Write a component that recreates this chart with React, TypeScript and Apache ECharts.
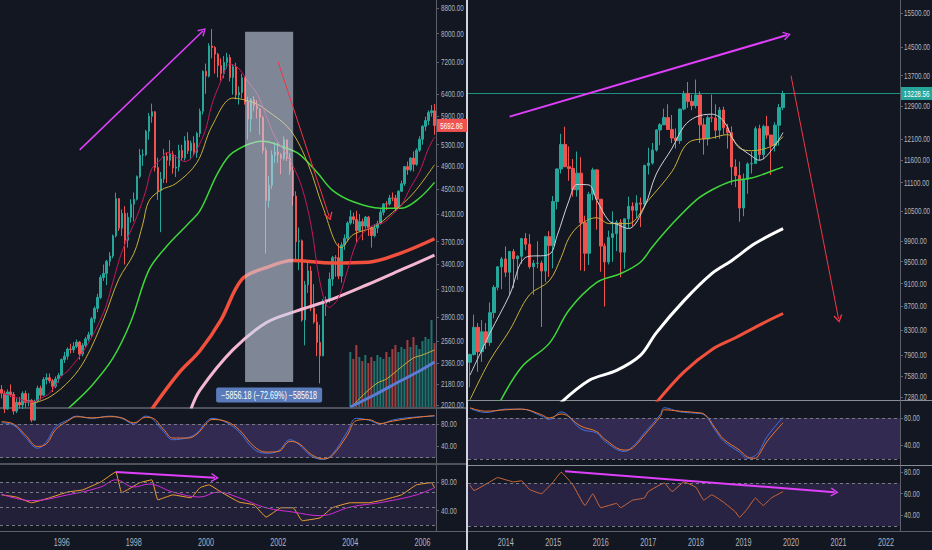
import React, { useEffect, useRef } from "react";
import * as echarts from "echarts";

// ---------- categories ----------
function monthSeq(y: number, m: number, n: number): string[] {
  const out: string[] = [];
  for (let i = 0; i < n; i++) {
    const t = m - 1 + i;
    const yy = y + Math.floor(t / 12);
    const mm = (t % 12) + 1;
    out.push(`${yy}-${mm < 10 ? "0" : ""}${mm}`);
  }
  return out;
}
const leftMonths = monthSeq(1994, 5, 145); // 1994-05 .. 2006-05
const rightMonths = monthSeq(2013, 4, 109); // 2013-04 .. 2022-04
const leftYearLabels = ["1996", "1998", "2000", "2002", "2004", "2006"];
const rightYearLabels = ["2014", "2015", "2016", "2017", "2018", "2019", "2020", "2021", "2022"];

// ---------- left chart (1994-2006) monthly OHLC ----------
const leftFirstOpen = 2140;
const leftClose = [
  2110, 1990, 2120, 2100, 1975, 2040, 2020, 2107,
  2040, 2055, 1910, 2050, 2150, 2095, 2220, 2235, 2210, 2165, 2225, 2254,
  2390, 2420, 2485, 2480, 2510, 2550, 2440, 2520, 2580, 2620, 2780, 2889,
  3010, 3240, 3290, 3440, 3510, 3780, 4340, 3890, 4110, 3720, 4050, 4250,
  4330, 4710, 5100, 5110, 5570, 5890, 5990, 4870, 4470, 4670, 5080, 5002,
  5120, 4860, 4880, 5190, 5050, 5380, 5180, 5330, 5150, 5525, 6000, 6958,
  6835, 7645, 7599, 7415, 7109, 6898, 7190, 7320, 6798, 7077, 6372, 6434,
  6795, 6208, 5830, 6265, 6123, 6058, 5861, 5188, 4308, 4560, 5100, 5160,
  5107, 5039, 5397, 5041, 4818, 4383, 3700, 3712, 2769, 3153, 3320, 2893,
  2747, 2547, 2424, 2942, 2983, 3221, 3487, 3485, 3257, 3655, 3746, 3965,
  4058, 4018, 3856, 3985, 3921, 4052, 3895, 3785, 3893, 3960, 4126, 4256,
  4254, 4350, 4349, 4185, 4460, 4587, 4886, 4830, 5044, 4929, 5193, 5408,
  5674, 5796, 5970, 6009, 5692.86,
];
const leftHigh = [
  2175, 2130, 2140, 2180, 2120, 2070, 2080, 2125,
  2130, 2110, 2065, 2060, 2170, 2170, 2240, 2270, 2270, 2225, 2245, 2275,
  2400, 2460, 2500, 2535, 2550, 2575, 2560, 2540, 2600, 2650, 2800, 2910,
  3050, 3270, 3400, 3460, 3560, 3800, 4438, 4350, 4170, 4220, 4120, 4330,
  4440, 4730, 5220, 5210, 5600, 5960, 6171, 6000, 5050, 4790, 5220, 5150,
  5390, 5180, 5100, 5300, 5300, 5470, 5550, 5380, 5470, 5560, 6060, 6980,
  7160, 7720, 8136, 7640, 7450, 7300, 7360, 7450, 7400, 7140, 7180, 6580,
  6890, 6820, 6330, 6300, 6350, 6250, 6070, 5900, 5250, 4720, 5190, 5350,
  5340, 5140, 5467, 5400, 5140, 4880, 4460, 3900, 3730, 3200, 3440, 3380,
  3160, 2830, 2720, 2990, 3020, 3300, 3510, 3520, 3680, 3690, 3800, 3990,
  4160, 4120, 4150, 4100, 4030, 4070, 4070, 3920, 3950, 4000, 4170, 4270,
  4300, 4400, 4440, 4400, 4480, 4640, 4900, 4980, 5060, 5170, 5230, 5470,
  5700, 5880, 6020, 6140, 6163,
];
const leftLow = [
  2070, 1960, 1985, 2080, 1950, 1960, 1995, 1990,
  2000, 2010, 1895, 1905, 2040, 2060, 2090, 2180, 2190, 2120, 2150, 2195,
  2250, 2360, 2390, 2445, 2450, 2495, 2390, 2420, 2500, 2560, 2600, 2740,
  2850, 2990, 3200, 3150, 3380, 3480, 3760, 3850, 3780, 3400, 3620, 3970,
  3990, 4310, 4680, 4900, 5080, 5400, 5750, 4800, 4320, 3833, 4600, 4600,
  4900, 4760, 4700, 4800, 4990, 5000, 5120, 5020, 5100, 5050, 5450, 5930,
  6400, 6800, 7300, 6900, 6800, 6720, 6780, 7030, 6700, 6380, 6270, 6150,
  6300, 6150, 5400, 5550, 6000, 5840, 5500, 5130, 3540, 4200, 4500, 4950,
  4960, 4750, 5000, 4990, 4740, 4230, 3460, 3330, 2750, 2520, 3060, 2860,
  2730, 2420, 2188, 2420, 2810, 2950, 3140, 3250, 3220, 3180, 3590, 3700,
  3940, 3950, 3690, 3840, 3720, 3880, 3780, 3620, 3760, 3820, 3940, 4080,
  4160, 4230, 4300, 4150, 4180, 4450, 4550, 4740, 4800, 4800, 4900, 5160,
  5300, 5580, 5700, 5880, 5500,
];
const leftVolumeStart = "2004-01";
const leftVolume = [
  55, 48, 62, 50, 46, 52, 44, 50, 46, 52, 50, 48,
  55, 50, 58, 62, 55, 60, 58, 67, 60, 70, 62, 58,
  66, 70, 68, 87, 64,
];
const leftVolMaFast: [string, number][] = [
  ["2004-02", 2], ["2004-06", 14], ["2004-10", 24], ["2005-01", 28], ["2005-06", 40],
  ["2005-10", 49], ["2006-01", 52], ["2006-05", 57],
];
const leftVolMaSlow: [string, number][] = [
  ["2004-01", 0], ["2004-09", 12], ["2005-05", 25], ["2005-12", 36], ["2006-05", 45],
];

// moving averages
const leftMaFast: [string, number][] = [
  ["1994-05", 2110], ["1994-09", 2085], ["1995-03", 2040], ["1995-06", 2070], ["1995-09", 2110],
  ["1996-01", 2250], ["1996-03", 2290], ["1996-09", 2500], ["1997-03", 2850], ["1997-06", 3180],
  ["1997-09", 3560], ["1998-02", 4060], ["1998-05", 4470], ["1998-07", 4850], ["1998-10", 5020],
  ["1998-12", 5150], ["1999-06", 4980], ["1999-12", 5460], ["2000-03", 6160], ["2000-06", 6710],
  ["2000-09", 7150], ["2000-12", 7020], ["2001-03", 6690], ["2001-06", 6400], ["2001-09", 5900],
  ["2001-12", 5450], ["2002-03", 5180], ["2002-06", 4890], ["2002-09", 4510], ["2002-12", 3920],
  ["2003-03", 3170], ["2003-06", 2900], ["2003-09", 3000], ["2003-12", 3320], ["2004-03", 3680],
  ["2004-06", 3850], ["2004-09", 3940], ["2004-12", 3970], ["2005-03", 4090], ["2005-06", 4240],
  ["2005-09", 4520], ["2005-12", 4790], ["2006-03", 5230], ["2006-05", 5450],
];
const leftMaMid: [string, number][] = [
  ["1995-03", 2030], ["1995-09", 2080], ["1996-04", 2220], ["1996-09", 2400], ["1997-03", 2780],
  ["1997-08", 3220], ["1998-01", 3540], ["1998-04", 3950], ["1998-06", 4300], ["1998-10", 4480],
  ["1999-03", 4590], ["1999-10", 4960], ["2000-03", 5680], ["2000-10", 6300], ["2001-05", 6190],
  ["2001-09", 6030], ["2002-05", 5600], ["2002-11", 4930], ["2003-04", 4190], ["2003-10", 3620],
  ["2004-02", 3800], ["2004-09", 3910], ["2005-03", 4120], ["2005-10", 4430], ["2006-05", 4920],
];
const leftMaGreen: [string, number][] = [
  ["1996-01", 1950], ["1996-04", 2010], ["1996-11", 2170], ["1997-06", 2400], ["1997-12", 2750],
  ["1998-06", 3330], ["1998-12", 3640], ["1999-07", 3950], ["1999-11", 4150], ["2000-05", 4780],
  ["2000-10", 5150], ["2001-08", 5370], ["2002-03", 5250], ["2002-08", 5120], ["2003-02", 4780],
  ["2003-07", 4480], ["2004-02", 4290], ["2004-11", 4190], ["2005-06", 4190], ["2005-12", 4350],
  ["2006-05", 4610],
];
const leftMaRed: [string, number][] = [
  ["1998-07", 1990], ["1999-04", 2275], ["1999-11", 2470], ["2000-06", 2770], ["2001-01", 3220],
  ["2001-09", 3360], ["2002-06", 3450], ["2003-07", 3420], ["2004-07", 3430], ["2005-06", 3550],
  ["2006-05", 3740],
];
const leftMaPink: [string, number][] = [
  ["1999-08", 1990], ["1999-11", 2135], ["2000-10", 2480], ["2001-09", 2740], ["2002-07", 2860],
  ["2003-07", 2990], ["2004-07", 3160], ["2005-06", 3335], ["2006-05", 3520],
];
// stochastic RSI [month, %K, %D]
const leftStoch: [string, number, number][] = [
  ["1994-05", 82, 84], ["1994-09", 78, 80], ["1995-01", 56, 60], ["1995-05", 37, 40], ["1995-08", 49, 45],
  ["1995-11", 75, 70], ["1996-03", 87, 85], ["1996-06", 94, 93], ["1996-11", 90, 91], ["1997-05", 94, 93],
  ["1997-09", 90, 91], ["1998-01", 80, 82], ["1998-05", 94, 92], ["1998-07", 90, 91], ["1998-11", 66, 70],
  ["1999-02", 52, 55], ["1999-07", 56, 55], ["1999-10", 64, 62], ["2000-01", 83, 80], ["2000-03", 90, 88],
  ["2000-08", 82, 84], ["2000-12", 66, 70], ["2001-05", 35, 40], ["2001-09", 28, 30], ["2002-01", 32, 31],
  ["2002-05", 52, 49], ["2002-08", 43, 45], ["2002-12", 23, 26], ["2003-04", 17, 18], ["2003-07", 26, 24],
  ["2003-12", 66, 60], ["2004-03", 90, 86], ["2004-07", 87, 88], ["2004-11", 80, 81], ["2005-03", 87, 85],
  ["2005-10", 92, 91], ["2006-05", 94, 95],
];
const leftRsi: [string, number][] = [
  ["1994-05", 62], ["1994-10", 59], ["1995-03", 51], ["1995-09", 58], ["1996-03", 66],
  ["1996-08", 69], ["1997-02", 80], ["1997-07", 94], ["1997-09", 65], ["1998-03", 79],
  ["1998-07", 83], ["1998-09", 55], ["1999-02", 62], ["1999-08", 58], ["1999-11", 72],
  ["2000-02", 76], ["2000-06", 66], ["2000-12", 52], ["2001-05", 48], ["2001-09", 31],
  ["2002-02", 44], ["2002-06", 44], ["2002-09", 26], ["2003-03", 30], ["2003-07", 44],
  ["2004-01", 51], ["2004-07", 51], ["2004-12", 55], ["2005-06", 62], ["2005-11", 76],
  ["2006-04", 79], ["2006-05", 72],
];
const leftRsiMa: [string, number][] = [
  ["1994-05", 63], ["1995-03", 54], ["1996-03", 62], ["1997-02", 73], ["1997-07", 83],
  ["1998-01", 73], ["1998-06", 77], ["1999-02", 66], ["1999-11", 59], ["2000-05", 66],
  ["2000-12", 58], ["2001-09", 44], ["2002-06", 38], ["2003-03", 33], ["2004-01", 45],
  ["2004-12", 52], ["2005-11", 62], ["2006-05", 72],
];
const leftPriceTicks = [2020, 2180, 2360, 2560, 2800, 3100, 3400, 3700, 4100, 4500, 4900, 5300, 5900, 6400, 7200, 8000, 8800];
const leftStochTicks = [80, 40];
const leftRsiTicks = [80, 40];
const leftLastPrice = 5692.86;

// ---------- right chart (2013-2019) monthly OHLC ----------
const rightFirstOpen = 7795;
const rightClose = [
  7914, 8349, 7959, 8276, 8103, 8594, 9033, 9405, 9552,
  9306, 9692, 9556, 9603, 9943, 9833, 9407, 9470, 9474, 9327, 9980, 9806,
  10694, 11402, 11966, 11454, 11414, 10945, 11309, 10259, 9660, 10850, 11382, 10743,
  9798, 9495, 9965, 10039, 10263, 9680, 10337, 10593, 10511, 10665, 10640, 11481,
  11535, 11834, 12313, 12438, 12615, 12325, 12118, 12056, 12829, 13230, 13024, 12918,
  13189, 12436, 12097, 12612, 12605, 12306, 12806, 12364, 12247, 11448, 11257, 10559,
  11173, 11516, 11526, 12344, 11727, 12399, 12189, 11939, 12428, 12867, 13228.56,
];
const rightHigh = [
  7930, 8560, 8420, 8470, 8420, 8770, 9070, 9420, 9590,
  9790, 9700, 9740, 9620, 9950, 10050, 10030, 9530, 9890, 9520, 10000, 10090,
  10810, 11410, 12220, 12391, 11920, 11630, 11800, 11670, 10400, 10900, 11430, 11400,
  10750, 9850, 10100, 10490, 10310, 10330, 10340, 10800, 10680, 10830, 10780, 11500,
  11890, 12000, 12330, 12480, 12840, 12950, 12680, 12350, 12840, 13300, 13530, 13200,
  13596, 13280, 12600, 12670, 13200, 12950, 12880, 12890, 12460, 12400, 11620, 11570,
  11300, 11550, 11800, 12400, 12440, 12440, 12660, 12190, 12500, 12960, 13300,
];
const rightLow = [
  7420, 7900, 7650, 7800, 8000, 8050, 8500, 8980, 9000,
  9220, 8900, 9020, 9170, 9460, 9720, 9370, 8900, 9380, 8355, 9130, 9220,
  9380, 10530, 11300, 11440, 11140, 10800, 10800, 9338, 9325, 9440, 10720, 10120,
  9314, 8699, 9450, 9500, 9700, 9214, 9370, 10150, 10190, 10350, 10170, 10580,
  11280, 11500, 11800, 11950, 12430, 12320, 12000, 11870, 11980, 12800, 12860, 12800,
  12850, 12000, 11730, 11940, 12500, 12100, 12100, 12200, 11870, 11050, 11000, 10279,
  10390, 10860, 11300, 11520, 11600, 11620, 12100, 11266, 11800, 11940, 12800,
];
const rightMaFast: [string, number][] = [
  ["2013-04", 7600], ["2013-09", 8250], ["2014-02", 8900], ["2014-06", 9580], ["2014-12", 9640],
  ["2015-02", 10000], ["2015-05", 10720], ["2015-07", 11060], ["2015-10", 11050], ["2015-12", 10720],
  ["2016-03", 10300], ["2016-05", 10230], ["2016-08", 10140], ["2016-12", 10580], ["2017-03", 11290],
  ["2017-07", 11880], ["2017-10", 12400], ["2018-01", 12630], ["2018-05", 12700], ["2018-08", 12530],
  ["2018-11", 12000], ["2019-03", 11700], ["2019-05", 11600], ["2019-08", 11820], ["2019-11", 12250],
];
const rightMaMid: [string, number][] = [
  ["2013-04", 7240], ["2013-09", 7820], ["2014-02", 8300], ["2014-07", 8900], ["2014-12", 9150],
  ["2015-03", 9580], ["2015-05", 9960], ["2015-08", 10230], ["2015-12", 10360], ["2016-03", 10240],
  ["2016-08", 10240], ["2017-01", 10720], ["2017-07", 11350], ["2017-11", 12000], ["2018-05", 12120],
  ["2018-09", 12200], ["2018-12", 11880], ["2019-03", 11820], ["2019-08", 11920], ["2019-11", 12150],
];
const rightMaGreen: [string, number][] = [
  ["2013-11", 7150], ["2014-05", 7720], ["2014-12", 8090], ["2015-05", 8640], ["2015-12", 9120],
  ["2016-06", 9280], ["2016-11", 9490], ["2017-02", 9780], ["2017-07", 10230], ["2018-01", 10720],
  ["2018-05", 10940], ["2018-10", 11130], ["2019-03", 11200], ["2019-08", 11350], ["2019-11", 11450],
];
const rightMaWhite: [string, number][] = [
  ["2015-02", 7150], ["2015-10", 7520], ["2016-05", 7670], ["2016-11", 7900], ["2017-03", 8260],
  ["2017-10", 8800], ["2018-05", 9280], ["2018-10", 9520], ["2019-04", 9850], ["2019-11", 10140],
];
const rightMaRed: [string, number][] = [
  ["2017-03", 7200], ["2017-10", 7650], ["2018-05", 7990], ["2018-11", 8180], ["2019-06", 8420],
  ["2019-11", 8580],
];
const rightStoch: [string, number, number][] = [
  ["2013-04", 94, 95], ["2013-08", 88, 90], ["2014-01", 93, 92], ["2014-05", 93, 93], ["2014-10", 83, 85],
  ["2014-12", 78, 80], ["2015-03", 89, 86], ["2015-08", 64, 68], ["2015-12", 58, 60], ["2016-02", 46, 49],
  ["2016-07", 31, 33], ["2016-09", 38, 36], ["2016-12", 58, 55], ["2017-04", 85, 82], ["2017-05", 95, 92],
  ["2017-09", 89, 90], ["2018-01", 87, 88], ["2018-03", 85, 86], ["2018-06", 61, 64], ["2018-08", 46, 49],
  ["2018-12", 30, 33], ["2019-02", 21, 23], ["2019-04", 25, 21], ["2019-05", 31, 27], ["2019-07", 53, 46],
  ["2019-11", 81, 73],
];
const rightRsi: [string, number][] = [
  ["2013-04", 68], ["2013-05", 63], ["2013-09", 71], ["2013-11", 75], ["2014-03", 71],
  ["2014-05", 72], ["2014-07", 64], ["2014-10", 60], ["2015-01", 71], ["2015-03", 80],
  ["2015-06", 68], ["2015-09", 49], ["2015-11", 60], ["2016-01", 47], ["2016-05", 51],
  ["2016-06", 47], ["2016-09", 54], ["2016-12", 56], ["2017-01", 62], ["2017-05", 70],
  ["2017-07", 62], ["2017-10", 71], ["2018-01", 66], ["2018-03", 54], ["2018-05", 59],
  ["2018-08", 52], ["2018-11", 43], ["2018-12", 38], ["2019-02", 46], ["2019-04", 56],
  ["2019-06", 49], ["2019-08", 56], ["2019-11", 62],
];
const rightPriceTicks = [7280, 7580, 7900, 8300, 8700, 9100, 9500, 9900, 10500, 11100, 11600, 12100, 12900, 13700, 14500, 15500];
const rightStochTicks = [80, 40];
const rightRsiTicks = [80, 60, 40];
const rightLastPrice = 13228.56;

// ---------- styling ----------
const BG = "#131722";
const UP = "#26a69a";
const DOWN = "#ef5350";
const LABEL = "#b2b5be";
const AXIS = "#5d606b";
const MAGENTA = "#e040fb";
const FONT = "'Liberation Sans', Arial, sans-serif";
const CHEVRON = "path://M5,0 L10,9 L8.6,9.8 L5,2.9 L1.4,9.8 L0,9 Z";

function toCandles(first: number, close: number[], high: number[], low: number[]) {
  return close.map((c, i) => {
    const o = i === 0 ? first : close[i - 1];
    return [o, c, low[i], high[i]];
  });
}

function priceAxis(gridIndex: number, min: number, max: number, ticks: number[]) {
  return {
    type: "log",
    logBase: 10,
    gridIndex,
    min,
    max,
    position: "right",
    axisLine: { show: true, lineStyle: { color: AXIS } },
    axisTick: { show: true, length: 3, customValues: ticks, lineStyle: { color: AXIS } },
    axisLabel: { show: false, customValues: ticks },
    splitLine: { show: false },
  };
}
function oscAxis(gridIndex: number, min: number, max: number, ticks: number[]) {
  return {
    type: "value",
    gridIndex,
    min,
    max,
    position: "right",
    axisLine: { show: true, lineStyle: { color: AXIS } },
    axisTick: { show: true, length: 3, customValues: ticks, lineStyle: { color: AXIS } },
    axisLabel: { show: false, customValues: ticks },
    splitLine: { show: false },
  };
}
function catAxis(gridIndex: number, data: string[]) {
  return {
    type: "category",
    gridIndex,
    data,
    boundaryGap: true,
    axisLine: { show: false },
    axisTick: { show: false },
    splitLine: { show: false },
    axisLabel: { show: false },
  };
}
function maLine(name: string, x: number, y: number, data: [string, number][], color: string, width: number, z = 3) {
  return {
    name,
    type: "line",
    xAxisIndex: x,
    yAxisIndex: y,
    data,
    smooth: 0.35,
    symbol: "none",
    z,
    lineStyle: { color, width },
    silent: true,
  };
}
const bandLines = (vals: number[]) => ({
  silent: true,
  symbol: ["none", "none"],
  label: { show: false },
  lineStyle: { color: "#787b86", width: 1, type: [3, 3] },
  data: vals.map((v) => ({ yAxis: v })),
});
const arrow = (from: [string, number], to: [string, number], color: string, width: number) => [
  { coord: from, symbol: "none", lineStyle: { color, width, type: "solid", opacity: 1 }, label: { show: false } },
  { coord: to, symbol: CHEVRON, symbolSize: [9, 8], lineStyle: { color, width, type: "solid", opacity: 1 }, label: { show: false } },
];

// condensed-looking text (the reference's axis font is narrow)
function narrowText(x: number, y: number, text: string, align: string, fill = LABEL, size = 9.5, scale = 0.66) {
  return {
    type: "text",
    x,
    y,
    scaleX: scale,
    silent: true,
    z: 50,
    style: {
      text,
      fill,
      font: `${size}px ${FONT}`,
      align,
      verticalAlign: "middle",
      textAlign: align,
      textVerticalAlign: "middle",
    },
  };
}
function priceBox(x: number, y: number, text: string, color: string) {
  return {
    type: "group",
    x,
    y,
    silent: true,
    z: 60,
    children: [
      { type: "rect", shape: { x: 0, y: -6.5, width: 31, height: 13 }, style: { fill: color } },
      narrowText(15.5, 0.5, text, "center", "#ffffff"),
    ],
  };
}

export default function App() {
  const ref = useRef<HTMLDivElement>(null);

  useEffect(() => {
    document.body.style.margin = "0";
    document.body.style.background = BG;
    if (!ref.current) return;
    const chart = echarts.init(ref.current, undefined, { renderer: "svg" });

    const leftCandles = toCandles(leftFirstOpen, leftClose, leftHigh, leftLow);
    const rightCandles = toCandles(rightFirstOpen, rightClose, rightHigh, rightLow);
    const volStart = leftMonths.indexOf(leftVolumeStart);
    const volData = leftMonths.map((m, i) => {
      if (i < volStart || i - volStart >= leftVolume.length) return null;
      const c = leftCandles[i];
      return {
        value: leftVolume[i - volStart],
        itemStyle: { color: c[1] >= c[0] ? "rgba(38,166,154,0.65)" : "rgba(239,83,80,0.65)" },
      };
    });

    const option: any = {
      animation: false,
      backgroundColor: BG,
      grid: [
        { left: 0, top: 0, width: 436, height: 407 },
        { left: 0, top: 409, width: 436, height: 54 },
        { left: 0, top: 465, width: 436, height: 66 },
        { left: 468, top: 0, width: 432, height: 400 },
        { left: 468, top: 401, width: 432, height: 64 },
        { left: 468, top: 466, width: 432, height: 65 },
      ],
      xAxis: [
        catAxis(0, leftMonths),
        catAxis(1, leftMonths),
        catAxis(2, leftMonths),
        catAxis(3, rightMonths),
        catAxis(4, rightMonths),
        catAxis(5, rightMonths),
      ],
      yAxis: [
        priceAxis(0, 2005, 9062, leftPriceTicks),
        { type: "value", gridIndex: 0, min: 0, max: 407, show: false },
        oscAxis(1, 10.6, 106.7, leftStochTicks),
        oscAxis(2, 11.6, 103.7, leftRsiTicks),
        priceAxis(3, 7237, 15900, rightPriceTicks),
        oscAxis(4, 11.2, 104.9, rightStochTicks),
        oscAxis(5, 25.3, 85.8, rightRsiTicks),
      ],
      series: [
        // ---- left main ----
        { type: "bar", xAxisIndex: 0, yAxisIndex: 1, data: volData, barWidth: 2, z: 1, silent: true },
        maLine("volMaFast", 0, 1, leftVolMaFast, "#c9b037", 1, 1),
        maLine("volMaSlow", 0, 1, leftVolMaSlow, "#5b7bd5", 3, 1),
        {
          type: "candlestick",
          xAxisIndex: 0,
          yAxisIndex: 0,
          data: leftCandles,
          barWidth: 2,
          z: 2,
          itemStyle: { color: UP, color0: DOWN, borderColor: UP, borderColor0: DOWN, borderWidth: 1 },
        },
        maLine("pink", 0, 0, leftMaPink, "#f4b6d0", 3),
        maLine("red", 0, 0, leftMaRed, "#f0503c", 3.5),
        maLine("green", 0, 0, leftMaGreen, "#3fd83a", 1.5),
        maLine("yellow", 0, 0, leftMaMid, "#c9b037", 1),
        {
          ...maLine("crimson", 0, 0, leftMaFast, "#c2185b", 1),
          markArea: {
            silent: true,
            z: 10,
            itemStyle: { color: "rgba(205,215,235,0.58)" },
            data: [[{ coord: ["2001-02", 8056] }, { coord: ["2002-06", 2200] }]],
          },
          markLine: {
            silent: true,
            z: 11,
            symbol: ["none", "none"],
            data: [
              arrow(["1996-07", 5200], ["1999-12", 8080], MAGENTA, 1.5),
              arrow(["2002-01", 7200], ["2003-06", 4060], "#f23645", 1),
            ],
          },
        },
        // ---- left stoch ----
        {
          type: "line",
          xAxisIndex: 1,
          yAxisIndex: 2,
          data: leftStoch.map((r) => [r[0], r[1]]),
          smooth: 0.4,
          symbol: "none",
          lineStyle: { color: "#3f6fe0", width: 1 },
          markArea: { silent: true, itemStyle: { color: "rgba(126,87,194,0.3)" }, data: [[{ yAxis: 20 }, { yAxis: 80 }]] },
          markLine: bandLines([80, 20]),
        },
        {
          type: "line",
          xAxisIndex: 1,
          yAxisIndex: 2,
          data: leftStoch.map((r) => [r[0], r[2]]),
          smooth: 0.4,
          symbol: "none",
          lineStyle: { color: "#f0782a", width: 1 },
        },
        // ---- left RSI ----
        {
          type: "line",
          xAxisIndex: 2,
          yAxisIndex: 3,
          data: leftRsi,
          smooth: 0.1,
          symbol: "none",
          lineStyle: { color: "#f0a030", width: 1 },
          markArea: { silent: true, itemStyle: { color: "rgba(126,87,194,0.14)" }, data: [[{ yAxis: 20 }, { yAxis: 80 }]] },
          markLine: bandLines([80, 65, 45, 20]),
        },
        {
          type: "line",
          xAxisIndex: 2,
          yAxisIndex: 3,
          data: leftRsiMa,
          smooth: 0.4,
          symbol: "none",
          lineStyle: { color: "#d22bd6", width: 1 },
          markLine: {
            silent: true,
            symbol: ["none", "none"],
            data: [arrow(["1997-07", 94], ["2000-04", 86], MAGENTA, 2)],
          },
        },
        // ---- right main ----
        {
          type: "candlestick",
          xAxisIndex: 3,
          yAxisIndex: 4,
          data: rightCandles,
          barWidth: 3,
          z: 2,
          itemStyle: { color: UP, color0: DOWN, borderColor: UP, borderColor0: DOWN, borderWidth: 1 },
          markLine: {
            silent: true,
            z: 1,
            symbol: ["none", "none"],
            label: { show: false },
            lineStyle: { color: "#1f8f83", width: 1, type: "solid", opacity: 1 },
            emphasis: { disabled: true },
            data: [{ yAxis: rightLastPrice, lineStyle: { color: "#1f8f83", width: 1, type: "solid", opacity: 1 } }],
          },
        },
        maLine("rRed", 3, 4, rightMaRed, "#f0503c", 3),
        maLine("rWhiteThick", 3, 4, rightMaWhite, "#ffffff", 3),
        maLine("rGreen", 3, 4, rightMaGreen, "#3fd83a", 1.5),
        maLine("rYellow", 3, 4, rightMaMid, "#c9b037", 1),
        {
          ...maLine("rWhite", 3, 4, rightMaFast, "#cfd2d8", 1),
          markLine: {
            silent: true,
            z: 11,
            symbol: ["none", "none"],
            data: [
              arrow(["2014-02", 12640], ["2019-12", 14840], MAGENTA, 2),
              arrow(["2020-01", 13700], ["2021-01", 8490], "#f23645", 1),
            ],
          },
        },
        // ---- right stoch ----
        {
          type: "line",
          xAxisIndex: 4,
          yAxisIndex: 5,
          data: rightStoch.map((r) => [r[0], r[1]]),
          smooth: 0.4,
          symbol: "none",
          lineStyle: { color: "#3f6fe0", width: 1 },
          markArea: { silent: true, itemStyle: { color: "rgba(126,87,194,0.3)" }, data: [[{ yAxis: 20 }, { yAxis: 80 }]] },
          markLine: bandLines([80, 20]),
        },
        {
          type: "line",
          xAxisIndex: 4,
          yAxisIndex: 5,
          data: rightStoch.map((r) => [r[0], r[2]]),
          smooth: 0.4,
          symbol: "none",
          lineStyle: { color: "#f0782a", width: 1 },
        },
        // ---- right RSI ----
        {
          type: "line",
          xAxisIndex: 5,
          yAxisIndex: 6,
          data: rightRsi,
          smooth: 0.1,
          symbol: "none",
          lineStyle: { color: "#d0693a", width: 1 },
          markArea: { silent: true, itemStyle: { color: "rgba(126,87,194,0.2)" }, data: [[{ yAxis: 30 }, { yAxis: 70 }]] },
          markLine: {
            ...bandLines([70, 30]),
            data: [{ yAxis: 70 }, { yAxis: 30 }, arrow(["2015-04", 81], ["2020-12", 61.4], MAGENTA, 2)],
          },
        },
      ],
    };

    chart.setOption(option);

    // ---- texts placed through the chart's own scales ----
    const px = (finder: any, v: any) => chart.convertToPixel(finder, v) as unknown as number;
    const g: any[] = [
      { type: "line", shape: { x1: 0, y1: 408, x2: 466, y2: 408 }, style: { stroke: "#8a8d96", lineWidth: 1 }, silent: true },
      { type: "line", shape: { x1: 0, y1: 464, x2: 466, y2: 464 }, style: { stroke: "#8a8d96", lineWidth: 1 }, silent: true },
      { type: "line", shape: { x1: 468, y1: 400.5, x2: 932, y2: 400.5 }, style: { stroke: "#8a8d96", lineWidth: 1 }, silent: true },
      { type: "line", shape: { x1: 468, y1: 465.5, x2: 932, y2: 465.5 }, style: { stroke: "#8a8d96", lineWidth: 1 }, silent: true },
      { type: "line", shape: { x1: 0, y1: 531.5, x2: 932, y2: 531.5 }, style: { stroke: "#5d606b", lineWidth: 1 }, silent: true },
      { type: "line", shape: { x1: 467, y1: 0, x2: 467, y2: 550 }, style: { stroke: "#d1d4dc", lineWidth: 2 }, silent: true },
    ];
    const yLabels = (axisIndex: number, ticks: number[], x: number) =>
      ticks.forEach((v) => g.push(narrowText(x, px({ yAxisIndex: axisIndex }, v), v.toFixed(2), "left")));
    yLabels(0, leftPriceTicks, 441);
    yLabels(2, leftStochTicks, 441);
    yLabels(3, leftRsiTicks, 441);
    yLabels(4, rightPriceTicks, 904);
    yLabels(5, rightStochTicks, 904);
    yLabels(6, rightRsiTicks, 904);
    leftYearLabels.forEach((yr) =>
      g.push(narrowText(px({ xAxisIndex: 2 }, leftMonths.indexOf(`${yr}-01`)), 543, yr, "center", LABEL, 10, 0.72))
    );
    rightYearLabels.forEach((yr) =>
      g.push(narrowText(px({ xAxisIndex: 5 }, rightMonths.indexOf(`${yr}-01`)), 543, yr, "center", LABEL, 10, 0.72))
    );
    g.push(priceBox(436, px({ yAxisIndex: 0 }, leftLastPrice), leftLastPrice.toFixed(2), DOWN));
    g.push(priceBox(901, px({ yAxisIndex: 4 }, rightLastPrice), rightLastPrice.toFixed(2), UP));
    // measurement label under the shaded range
    const mx = (px({ xAxisIndex: 0 }, leftMonths.indexOf("2001-02")) + px({ xAxisIndex: 0 }, leftMonths.indexOf("2002-06"))) / 2;
    g.push({
      type: "group",
      x: mx,
      y: 395,
      silent: true,
      z: 60,
      children: [
        { type: "rect", shape: { x: -53, y: -7.5, width: 106, height: 15, r: 2 }, style: { fill: "#5b7cba" } },
        narrowText(0, 0.5, "−5856.18 (−72.69%) −585618", "center", "#ffffff", 10, 0.72),
      ],
    });
    chart.setOption({ graphic: g });

    return () => chart.dispose();
  }, []);

  return <div ref={ref} style={{ width: 932, height: 550 }} />;
}
